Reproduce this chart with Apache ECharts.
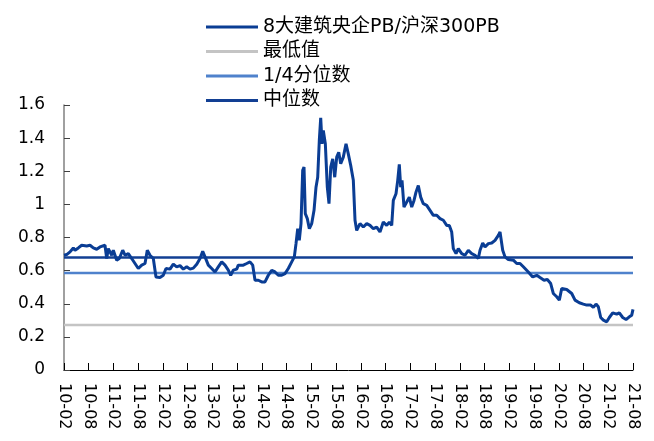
<!DOCTYPE html>
<html><head><meta charset="utf-8">
<script src="https://cdn.jsdelivr.net/npm/echarts@6/dist/echarts.min.js"></script>
<style>html,body{margin:0;padding:0;background:#fff}#c{width:654px;height:441px}</style>
</head><body><div id="c"></div>
<script>
// Month offsets from 2010-02 and the PB ratio read at each
const months = [0,0.65,1.46,2.26,2.67,3.47,4.29,5.51,6.31,7.11,7.93,8.73,9.14,9.94,10.36,10.74,11.16,11.57,11.96,12.78,13.41,14.24,14.8,15.6,16.42,17.22,18.02,18.85,19.65,20.2,20.86,21.66,22.31,23.28,24.08,24.74,25.71,26.51,27.33,28.13,28.94,29.76,30.56,31.36,32.19,32.99,33.64,34.2,35,35.82,36.62,37.42,38.25,39.05,39.85,40.43,41.06,41.89,42.27,43.49,44.31,45.11,45.77,46.33,47.13,47.95,48.75,49.55,50.38,51.18,51.98,52.8,53.6,54.4,55.23,55.86,56.27,56.68,57.07,57.48,57.89,58.21,58.52,59.01,59.5,60.08,60.64,61.12,61.53,61.92,62.26,62.58,62.89,63.38,63.86,64.27,64.69,65.17,65.66,66.14,66.63,67.11,67.74,68.4,68.95,69.54,70.17,70.58,70.99,71.79,72.59,73.42,74.22,75.02,75.84,76.64,77.44,78.27,78.9,79.48,79.87,80.52,80.94,81.32,81.66,81.98,82.46,83.12,83.75,84.33,84.89,85.37,85.93,86.51,87.14,87.97,88.77,89.57,90.4,91.2,92,92.82,93.45,94.03,94.42,95.08,95.63,96.46,97.26,98.06,98.88,99.68,100.48,100.9,101.55,102.11,102.91,103.74,104.54,105.34,105.75,106.4,106.96,107.76,108.98,109.8,110.6,111.4,112.61,113.68,114.65,115.45,116.42,117.22,118.04,118.67,119.5,120.13,120.71,121.92,123.14,123.94,124.98,125.95,126.78,127.75,128.38,129.03,129.59,130.17,130.81,131.63,132.26,133.08,134.05,134.68,135.51,136.31,137.11,137.69,138];
const pbRatio = [0.693,0.697,0.713,0.737,0.723,0.737,0.753,0.749,0.753,0.737,0.729,0.743,0.733,0.753,0.673,0.733,0.733,0.693,0.723,0.663,0.673,0.723,0.693,0.703,0.673,0.643,0.613,0.633,0.643,0.723,0.693,0.673,0.562,0.558,0.572,0.613,0.609,0.639,0.623,0.63,0.609,0.623,0.609,0.615,0.639,0.673,0.717,0.683,0.633,0.613,0.592,0.623,0.653,0.633,0.603,0.572,0.603,0.609,0.633,0.633,0.643,0.653,0.633,0.542,0.542,0.532,0.532,0.572,0.602,0.592,0.572,0.572,0.582,0.613,0.653,0.683,0.763,0.853,0.783,0.884,1.205,1.225,0.944,0.914,0.853,0.884,0.964,1.104,1.164,1.386,1.522,1.366,1.446,1.366,1.104,1.004,1.225,1.275,1.164,1.285,1.315,1.245,1.285,1.366,1.305,1.235,1.145,0.904,0.843,0.884,0.863,0.884,0.873,0.853,0.863,0.833,0.893,0.873,0.893,0.873,1.024,1.064,1.145,1.241,1.104,1.145,0.984,1.014,1.044,0.984,1.024,1.074,1.114,1.044,1.004,0.994,0.964,0.934,0.934,0.914,0.904,0.873,0.873,0.833,0.733,0.703,0.733,0.703,0.693,0.723,0.703,0.693,0.673,0.723,0.767,0.743,0.763,0.767,0.783,0.813,0.833,0.723,0.683,0.667,0.663,0.643,0.643,0.623,0.592,0.562,0.572,0.558,0.542,0.546,0.522,0.462,0.442,0.422,0.492,0.486,0.462,0.422,0.406,0.398,0.392,0.392,0.378,0.398,0.382,0.317,0.301,0.291,0.317,0.345,0.337,0.345,0.317,0.305,0.321,0.331,0.366];
const minValue = 0.271;
const quartileValue = 0.586;
const medianValue = 0.68;
const tickLabels = ['10-02','10-08','11-02','11-08','12-02','12-08','13-02','13-08','14-02','14-08','15-02','15-08','16-02','16-08','17-02','17-08','18-02','18-08','19-02','19-08','20-02','20-08','21-02','21-08'];
const seriesNames = ['8大建筑央企PB/沪深300PB','最低值','1/4分位数','中位数'];

const font = 'DejaVu Sans, Noto Sans CJK SC, sans-serif';
const xMax = (tickLabels.length - 1) * 6;
const flat = v => [[0, v], [xMax, v]];
const chart = echarts.init(document.getElementById('c'));
chart.setOption({
  animation: false,
  legend: {
    orient: 'vertical', left: 201, top: 11,
    itemWidth: 52, itemHeight: 3, itemGap: 2.5,
    icon: 'rect',
    textStyle: { fontFamily: font, fontSize: 19, color: '#000', lineHeight: 22 },
    data: seriesNames
  },
  grid: { left: 64, right: 21, top: 105, bottom: 71 },
  xAxis: {
    type: 'value', min: 0, max: xMax, interval: 6,
    axisLine: { lineStyle: { color: '#000', width: 1 } },
    axisTick: { inside: true, length: 7, lineStyle: { color: '#000' } },
    splitLine: { show: false },
    axisLabel: {
      rotate: -90, margin: 13, fontFamily: font, fontSize: 16, color: '#000',
      formatter: v => tickLabels[Math.round(v / 6)]
    }
  },
  yAxis: {
    type: 'value', min: 0, max: 1.6, interval: 0.2,
    axisLine: { show: true, lineStyle: { color: '#808080', width: 1.5 } },
    axisTick: { show: true, inside: true, length: 6, lineStyle: { color: '#404040' } },
    splitLine: { show: false },
    axisLabel: { margin: 19, fontFamily: font, fontSize: 17, color: '#000' }
  },
  series: [
    { name: seriesNames[1], type: 'line', data: flat(minValue), symbol: 'none', color: '#c4c4c4', lineStyle: { width: 2.5, color: '#c4c4c4' }, z: 1 },
    { name: seriesNames[2], type: 'line', data: flat(quartileValue), symbol: 'none', color: '#4f82cc', lineStyle: { width: 2.5, color: '#4f82cc' }, z: 1 },
    { name: seriesNames[3], type: 'line', data: flat(medianValue), symbol: 'none', color: '#123f93', lineStyle: { width: 2.5, color: '#123f93' }, z: 1 },
    { name: seriesNames[0], type: 'line', data: months.map((m, i) => [m, pbRatio[i]]), symbol: 'none', color: '#0a3d94', lineStyle: { width: 3, color: '#0a3d94' }, z: 3 }
  ]
});
</script></body></html>
